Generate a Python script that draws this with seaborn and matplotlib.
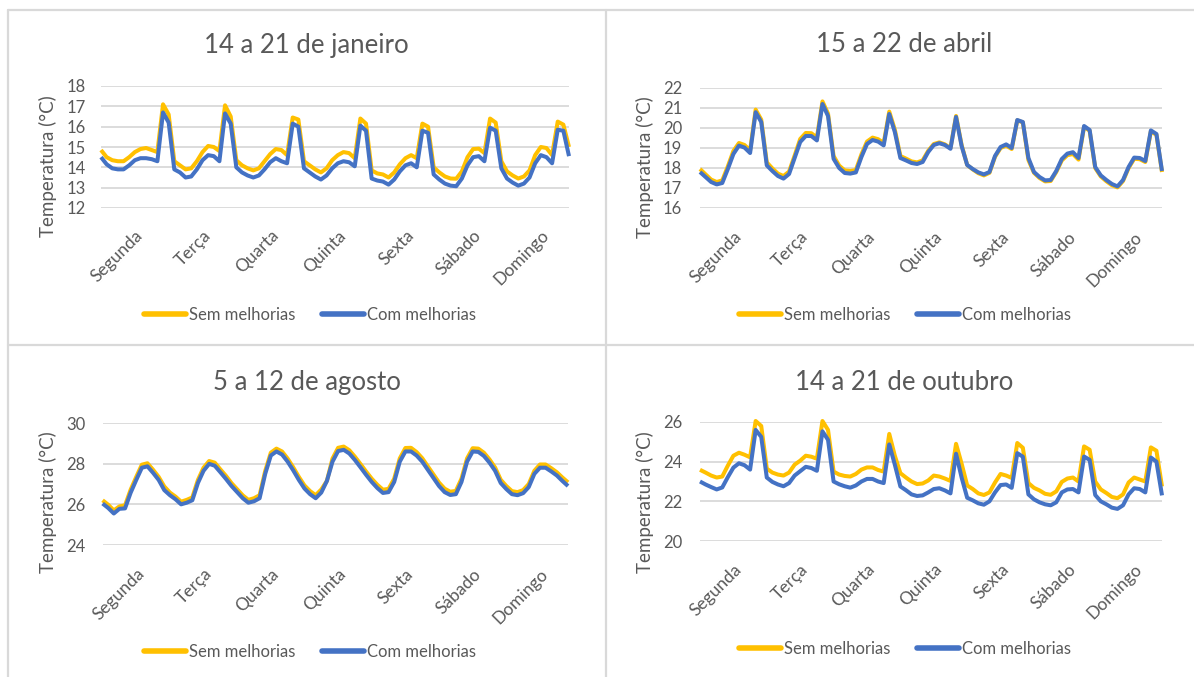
import matplotlib
matplotlib.use("Agg")
import matplotlib.pyplot as plt
import matplotlib.transforms as mtransforms
import pandas as pd
import seaborn as sns
from matplotlib.lines import Line2D

W, H = 1194, 677

DIAS = ["Segunda", "Terça", "Quarta", "Quinta", "Sexta", "Sábado", "Domingo"]
HORAS = list(range(0, 168, 2))
SERIES = ["Sem melhorias", "Com melhorias"]
CORES = {"Sem melhorias": "#FFC000", "Com melhorias": "#4472C4"}
TITULOS = ["14 a 21 de janeiro", "15 a 22 de abril", "5 a 12 de agosto", "14 a 21 de outubro"]
YLABEL = "Temperatura (°C)"

JAN_SEM = [14.85, 14.5, 14.35, 14.3, 14.3, 14.5, 14.75, 14.9, 14.95, 14.85, 14.75, 17.1,
           16.6, 14.3, 14.1, 13.9, 13.95, 14.3, 14.75, 15.05, 15.0, 14.8, 17.05, 16.5,
           14.35, 14.1, 13.95, 13.85, 13.95, 14.3, 14.65, 14.9, 14.85, 14.6, 16.45, 16.35,
           14.3, 14.1, 13.9, 13.75, 13.95, 14.35, 14.6, 14.75, 14.7, 14.45, 16.4, 16.15,
           13.85, 13.7, 13.65, 13.5, 13.75, 14.15, 14.45, 14.6, 14.45, 16.15, 16.0, 14.0,
           13.75, 13.55, 13.45, 13.44, 13.8, 14.5, 14.9, 14.92, 14.7, 16.4, 16.2, 14.3,
           13.8, 13.6, 13.45, 13.55, 13.85, 14.6, 15.0, 14.95, 14.6, 16.25, 16.1, 15.0]
JAN_COM = [14.5, 14.15, 13.95, 13.9, 13.9, 14.1, 14.35, 14.45, 14.45, 14.4, 14.3, 16.7,
           16.2, 13.9, 13.75, 13.5, 13.55, 13.9, 14.35, 14.6, 14.55, 14.3, 16.65, 16.15,
           14.0, 13.75, 13.6, 13.5, 13.6, 13.9, 14.25, 14.45, 14.3, 14.2, 16.15, 16.0,
           13.95, 13.75, 13.55, 13.4, 13.6, 13.95, 14.2, 14.3, 14.25, 14.05, 16.05, 15.8,
           13.45, 13.35, 13.3, 13.15, 13.4, 13.8, 14.1, 14.2, 14.0, 15.8, 15.7, 13.65,
           13.4, 13.2, 13.1, 13.07, 13.45, 14.1, 14.5, 14.55, 14.3, 15.95, 15.8, 13.95,
           13.45, 13.25, 13.1, 13.2, 13.5, 14.2, 14.6, 14.5, 14.2, 15.85, 15.8, 14.55]

ABR_SEM = [17.95, 17.68, 17.42, 17.3, 17.38, 18.08, 18.85, 19.25, 19.15, 18.88, 20.92, 20.42,
           18.28, 17.98, 17.72, 17.6, 17.82, 18.62, 19.45, 19.75, 19.74, 19.52, 21.33, 20.72,
           18.6, 18.12, 17.88, 17.85, 17.9, 18.68, 19.32, 19.52, 19.44, 19.25, 20.82, 19.92,
           18.6, 18.47, 18.33, 18.28, 18.38, 18.86, 19.2, 19.28, 19.18, 19.0, 20.6, 19.15,
           18.15, 17.93, 17.74, 17.63, 17.76, 18.56, 19.0, 19.12, 18.95, 20.38, 20.28, 18.4,
           17.76, 17.5, 17.33, 17.35, 17.8, 18.38, 18.64, 18.7, 18.42, 20.06, 19.86, 18.0,
           17.58, 17.34, 17.14, 17.03, 17.35, 18.0, 18.46, 18.44, 18.3, 19.83, 19.66, 17.8]
ABR_COM = [17.8, 17.55, 17.3, 17.18, 17.25, 17.95, 18.7, 19.12, 19.02, 18.75, 20.79, 20.3,
           18.13, 17.85, 17.6, 17.47, 17.7, 18.5, 19.3, 19.6, 19.6, 19.38, 21.2, 20.6,
           18.46, 18.0, 17.75, 17.72, 17.78, 18.55, 19.2, 19.4, 19.32, 19.13, 20.7, 19.8,
           18.5, 18.38, 18.25, 18.2, 18.3, 18.8, 19.15, 19.24, 19.15, 18.96, 20.55, 19.1,
           18.15, 17.95, 17.78, 17.68, 17.8, 18.6, 19.05, 19.18, 19.0, 20.4, 20.3, 18.5,
           17.8, 17.55, 17.38, 17.4, 17.85, 18.45, 18.72, 18.79, 18.5, 20.1, 19.9, 18.05,
           17.63, 17.4, 17.2, 17.08, 17.4, 18.05, 18.52, 18.5, 18.35, 19.88, 19.7, 17.85]

AGO_SEM = [26.2, 25.98, 25.7, 25.9, 25.95, 26.72, 27.35, 27.95, 28.02, 27.7, 27.35, 26.88,
           26.58, 26.38, 26.13, 26.22, 26.34, 27.2, 27.8, 28.13, 28.05, 27.72, 27.4, 27.04,
           26.74, 26.44, 26.22, 26.3, 26.45, 27.64, 28.54, 28.74, 28.6, 28.25, 27.82, 27.35,
           26.93, 26.65, 26.45, 26.73, 27.15, 28.25, 28.78, 28.84, 28.66, 28.34, 27.98, 27.61,
           27.26, 26.96, 26.72, 26.76, 27.26, 28.26, 28.77, 28.78, 28.57, 28.27, 27.87, 27.47,
           27.07, 26.77, 26.62, 26.66, 27.26, 28.26, 28.76, 28.74, 28.54, 28.21, 27.81, 27.21,
           26.9, 26.65, 26.6, 26.7, 27.0, 27.65, 27.96, 27.96, 27.78, 27.58, 27.32, 27.08]
AGO_COM = [26.04, 25.82, 25.55, 25.78, 25.8, 26.57, 27.2, 27.8, 27.87, 27.55, 27.2, 26.7,
           26.45, 26.25, 26.0, 26.08, 26.2, 27.05, 27.65, 27.99, 27.9, 27.58, 27.25, 26.9,
           26.6, 26.3, 26.08, 26.15, 26.3, 27.5, 28.4, 28.6, 28.45, 28.1, 27.67, 27.2,
           26.78, 26.5, 26.3, 26.58, 27.15, 28.1, 28.62, 28.68, 28.5, 28.18, 27.82, 27.45,
           27.1, 26.8, 26.56, 26.6, 27.1, 28.1, 28.6, 28.6, 28.4, 28.1, 27.7, 27.3,
           26.9, 26.6, 26.46, 26.5, 27.1, 28.1, 28.6, 28.58, 28.38, 28.05, 27.65, 27.05,
           26.75, 26.5, 26.45, 26.55, 26.85, 27.5, 27.8, 27.8, 27.62, 27.42, 27.15, 26.9]

OUT_SEM = [23.59, 23.45, 23.3, 23.2, 23.25, 23.8, 24.3, 24.45, 24.35, 24.22, 26.05, 25.8,
           23.65, 23.45, 23.35, 23.3, 23.45, 23.85, 24.05, 24.3, 24.25, 24.15, 26.05, 25.6,
           23.5, 23.35, 23.28, 23.25, 23.38, 23.6, 23.71, 23.71, 23.58, 23.5, 25.4, 24.3,
           23.42, 23.2, 23.0, 22.87, 22.9, 23.05, 23.3, 23.25, 23.15, 23.03, 24.9, 23.9,
           22.8, 22.62, 22.4, 22.32, 22.45, 22.95, 23.38, 23.3, 23.18, 24.94, 24.7, 22.92,
           22.68, 22.55, 22.38, 22.33, 22.5, 22.98, 23.15, 23.2, 23.0, 24.77, 24.6, 23.0,
           22.6, 22.42, 22.22, 22.16, 22.35, 22.95, 23.2, 23.1, 23.0, 24.72, 24.55, 22.75]
OUT_COM = [23.0, 22.85, 22.72, 22.6, 22.7, 23.22, 23.7, 23.92, 23.82, 23.6, 25.6, 25.25,
           23.2, 22.98, 22.85, 22.76, 22.92, 23.3, 23.52, 23.74, 23.68, 23.54, 25.53, 25.1,
           23.0, 22.86, 22.76, 22.69, 22.8, 23.0, 23.13, 23.13, 23.0, 22.92, 24.87, 23.85,
           22.75, 22.56, 22.35, 22.27, 22.3, 22.45, 22.62, 22.66, 22.55, 22.4, 24.4, 23.2,
           22.18, 22.05, 21.9, 21.83, 22.0, 22.45, 22.82, 22.85, 22.68, 24.43, 24.25, 22.35,
           22.1, 21.95, 21.85, 21.8, 21.95, 22.45, 22.6, 22.62, 22.45, 24.26, 24.09, 22.32,
           22.0, 21.85, 21.68, 21.62, 21.8, 22.35, 22.66, 22.62, 22.45, 24.21, 24.0, 22.3]

YTICKS = [[12, 13, 14, 15, 16, 17, 18],
          [16, 17, 18, 19, 20, 21, 22],
          [24, 26, 28, 30],
          [20, 22, 24, 26]]
DADOS = [(JAN_SEM, JAN_COM), (ABR_SEM, ABR_COM), (AGO_SEM, AGO_COM), (OUT_SEM, OUT_COM)]

# layout (pixels): plot box l, t, r, b ; title center ; ylabel center ; legend center
LAYOUT = [
    dict(box=(101, 86, 569, 208), title=(306, 45), ylab=(48, 166), leg=(310, 315), ypad=11.0, xpad=14),
    dict(box=(700, 88, 1162, 208), title=(904, 45), ylab=(645, 167), leg=(905, 315), ypad=13.0, xpad=15),
    dict(box=(102.6, 423, 568, 545), title=(307, 382), ylab=(48, 502), leg=(310, 652), ypad=12.0, xpad=15),
    dict(box=(700, 422, 1162, 541), title=(904, 382), ylab=(645, 502), leg=(905, 649), ypad=13.0, xpad=14.5),
]

TXT = "#595959"
GRID = "#D9D9D9"

sns.set_theme(style="white")
plt.rcParams["font.family"] = ["Lato", "DejaVu Sans"]

fig = plt.figure(figsize=(W / 100, H / 100), dpi=100)
fig.patch.set_facecolor("white")

def fx(x):
    return x / W

def fy(y):
    return 1 - y / H

# panel borders
for (x0, y0, x1, y1) in [(7.5, 9.5, 7.5, 677), (7.5, 9.5, 1194, 9.5),
                         (605.5, 9.5, 605.5, 677), (7.5, 345, 1194, 345)]:
    fig.add_artist(Line2D([fx(x0), fx(x1)], [fy(y0), fy(y1)], color=GRID, lw=1.6,
                          transform=fig.transFigure))

shift = mtransforms.ScaledTranslation(-11 / 100, 0, fig.dpi_scale_trans)

for i, lay in enumerate(LAYOUT):
    l, t, r, b = lay["box"]
    ax = fig.add_axes([fx(l), fy(b), (r - l) / W, (b - t) / H])
    sem, com = DADOS[i]
    df = pd.DataFrame({
        "hora": HORAS + HORAS,
        "temp": list(sem) + list(com),
        "serie": [SERIES[0]] * len(HORAS) + [SERIES[1]] * len(HORAS),
    })
    sns.lineplot(data=df, x="hora", y="temp", hue="serie", hue_order=SERIES,
                 palette=CORES, linewidth=2.9, ax=ax, legend=False,
                 solid_joinstyle="round", solid_capstyle="butt")
    for ln in ax.lines:
        ln.set_clip_on(False)
    yt = YTICKS[i]
    ax.set_ylim(yt[0], yt[-1])
    ax.set_xlim(0, HORAS[-1])
    ax.set_yticks(yt)
    ax.set_yticklabels([str(v) for v in yt], color=TXT, fontsize=12)
    ax.set_xticks([12 + 24 * d for d in range(7)])
    ax.set_xticklabels(DIAS, rotation=45, ha="right", va="top",
                       rotation_mode="anchor", color=TXT, fontsize=12.5)
    for lab in ax.get_xticklabels():
        lab.set_transform(lab.get_transform() + shift)
    ax.tick_params(axis="y", length=0, pad=lay["ypad"])
    ax.tick_params(axis="x", length=0, pad=lay["xpad"])
    ax.set_xlabel("")
    ax.set_ylabel("")
    ax.grid(axis="y", color=GRID, lw=1.3)
    ax.grid(axis="x", visible=False)
    ax.set_axisbelow(True)
    for s in ax.spines.values():
        s.set_visible(False)
    ax.set_facecolor("none")

    tx, ty = lay["title"]
    fig.text(fx(tx), fy(ty), TITULOS[i], ha="center", va="center", fontsize=18.5, color=TXT)
    lx, ly = lay["ylab"]
    fig.text(fx(lx), fy(ly), YLABEL, ha="center", va="center", rotation=90,
             fontsize=13.5, color=TXT)
    gx, gy = lay["leg"]
    handles = [Line2D([], [], color=CORES[s], lw=4) for s in SERIES]
    ax.legend(handles, SERIES, loc="center", bbox_to_anchor=(fx(gx), fy(gy)),
              bbox_transform=fig.transFigure, ncol=2, frameon=False,
              fontsize=12, handlelength=2.5, handletextpad=0.2,
              columnspacing=1.6, labelcolor=TXT)

fig.savefig("out.png", dpi=100, facecolor="white")
